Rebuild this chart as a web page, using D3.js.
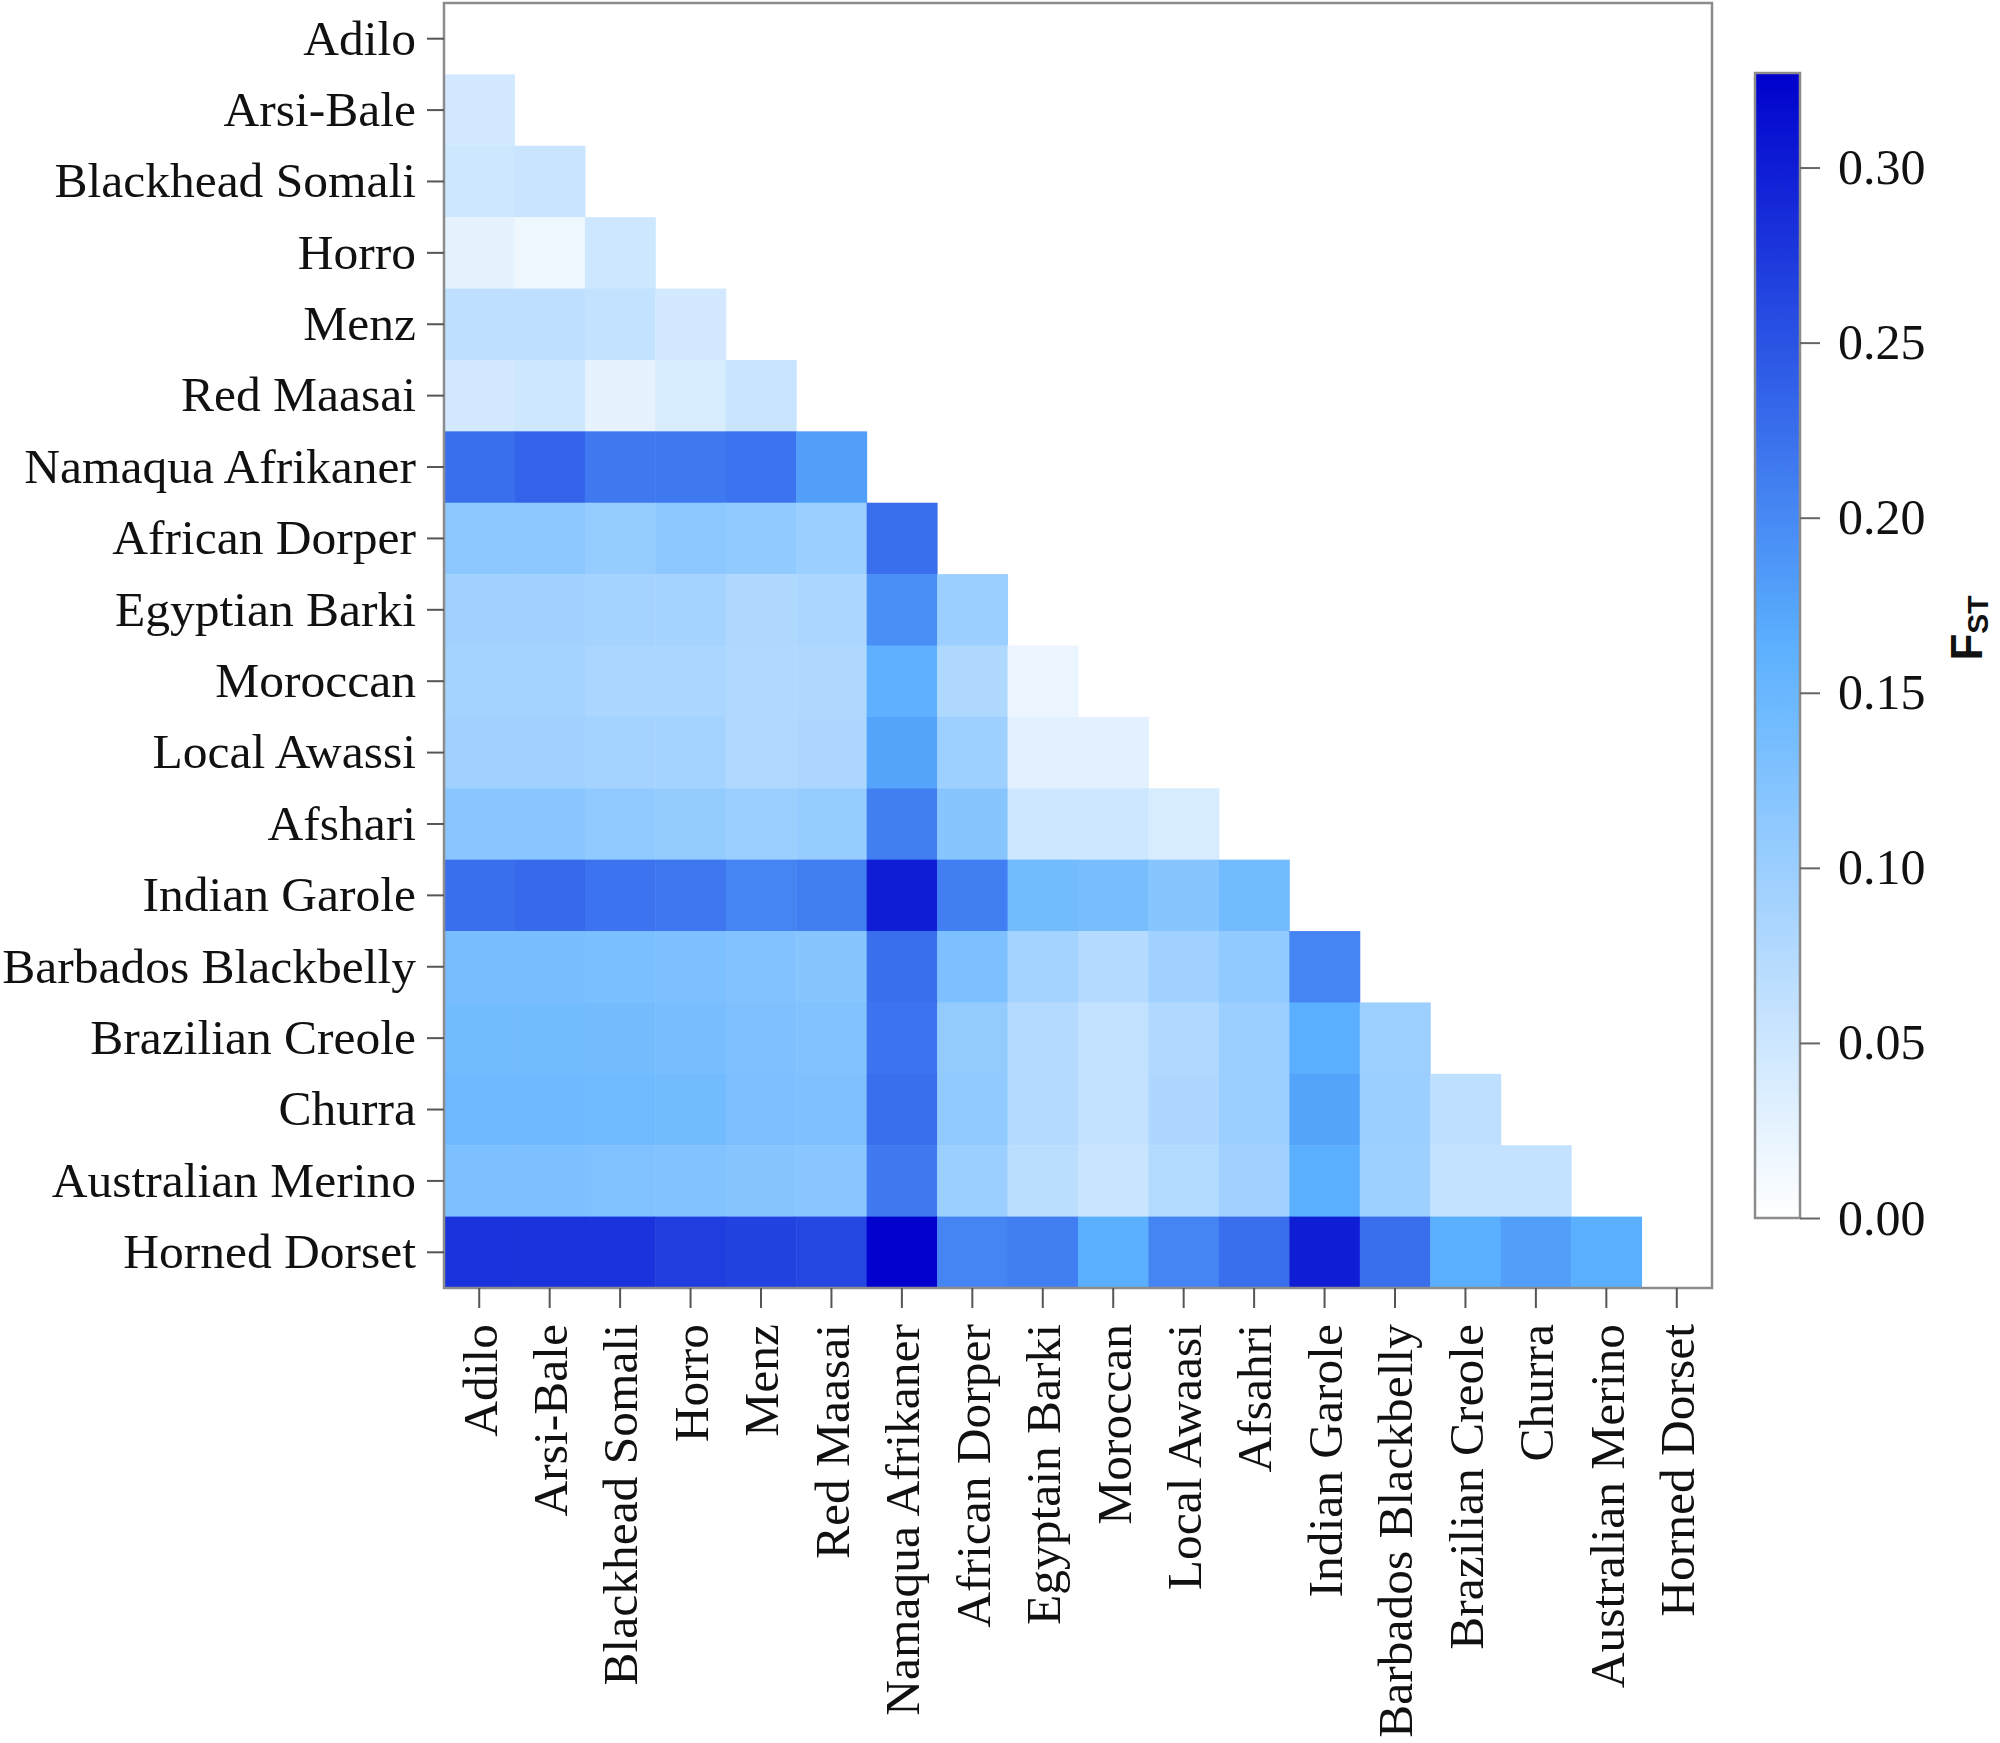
<!DOCTYPE html>
<html>
<head>
<meta charset="utf-8">
<script src="https://cdn.jsdelivr.net/npm/d3@7"></script>
<style>
  body { margin: 0; background: #fff; }
  svg text { fill: #111; }
</style>
</head>
<body>
<svg id="chart" width="2000" height="1743"></svg>
<script>
// breeds, top to bottom (rows) and left to right (columns, spelled as in the figure)
const rowLabels = ['Adilo', 'Arsi-Bale', 'Blackhead Somali', 'Horro', 'Menz', 'Red Maasai',
  'Namaqua Afrikaner', 'African Dorper', 'Egyptian Barki', 'Moroccan', 'Local Awassi', 'Afshari',
  'Indian Garole', 'Barbados Blackbelly', 'Brazilian Creole', 'Churra', 'Australian Merino', 'Horned Dorset'];
const colLabels = ['Adilo', 'Arsi-Bale', 'Blackhead Somali', 'Horro', 'Menz', 'Red Maasai',
  'Namaqua Afrikaner', 'African Dorper', 'Egyptain Barki', 'Moroccan', 'Local Awaasi', 'Afsahri',
  'Indian Garole', 'Barbados Blackbelly', 'Brazilian Creole', 'Churra', 'Australian Merino', 'Horned Dorset'];

// pairwise FST, lower triangle (row i, columns 0..i-1)
const fst = [
  [],
  [0.045],
  [0.05, 0.055],
  [0.025, 0.015, 0.05],
  [0.065, 0.065, 0.06, 0.045],
  [0.045, 0.05, 0.025, 0.04, 0.055],
  [0.225, 0.235, 0.215, 0.215, 0.22, 0.18],
  [0.115, 0.115, 0.105, 0.115, 0.11, 0.10, 0.225],
  [0.095, 0.095, 0.09, 0.09, 0.08, 0.085, 0.195, 0.10],
  [0.09, 0.09, 0.085, 0.085, 0.078, 0.08, 0.16, 0.08, 0.02],
  [0.095, 0.095, 0.09, 0.09, 0.078, 0.082, 0.175, 0.098, 0.028, 0.028],
  [0.118, 0.118, 0.11, 0.108, 0.10, 0.105, 0.21, 0.12, 0.05, 0.05, 0.04],
  [0.225, 0.23, 0.22, 0.218, 0.205, 0.21, 0.30, 0.21, 0.14, 0.135, 0.12, 0.14],
  [0.135, 0.135, 0.133, 0.13, 0.125, 0.12, 0.225, 0.13, 0.09, 0.075, 0.095, 0.11, 0.205],
  [0.14, 0.14, 0.138, 0.135, 0.128, 0.125, 0.22, 0.107, 0.075, 0.06, 0.078, 0.10, 0.165, 0.098],
  [0.145, 0.145, 0.143, 0.14, 0.13, 0.128, 0.225, 0.11, 0.075, 0.06, 0.082, 0.10, 0.175, 0.10, 0.065],
  [0.13, 0.13, 0.127, 0.125, 0.12, 0.118, 0.215, 0.10, 0.068, 0.055, 0.077, 0.095, 0.165, 0.098, 0.06, 0.06],
  [0.28, 0.28, 0.28, 0.27, 0.265, 0.262, 0.325, 0.205, 0.21, 0.165, 0.205, 0.225, 0.30, 0.225, 0.165, 0.18, 0.165]
];

const legendTicks = [0, 0.05, 0.10, 0.15, 0.20, 0.25, 0.30];
const fstMax = 0.327;

const serif = "'Liberation Serif', 'Times New Roman', serif";
const svg = d3.select('#chart');

const plot = { left: 444, right: 1712, top: 3, bottom: 1288 };
const idx = d3.range(rowLabels.length);

const x = d3.scaleBand().domain(idx).range([plot.left, plot.right]);
const y = d3.scaleBand().domain(idx).range([plot.top, plot.bottom]);

const color = d3.scaleLinear()
  .domain([0, 0.165, fstMax])
  .range(['#ffffff', '#5aafff', '#0000cd'])
  .clamp(true);

const cells = [];
fst.forEach((row, i) => row.forEach((v, j) => cells.push({ i, j, v })));

svg.append('g')
  .selectAll('rect')
  .data(cells)
  .enter()
  .append('rect')
  .attr('x', d => x(d.j))
  .attr('y', d => y(d.i))
  .attr('width', x.bandwidth() + 0.5)
  .attr('height', y.bandwidth() + 0.5)
  .attr('fill', d => color(d.v));

// frame
svg.append('rect')
  .attr('x', plot.left)
  .attr('y', plot.top)
  .attr('width', plot.right - plot.left)
  .attr('height', plot.bottom - plot.top)
  .attr('fill', 'none')
  .attr('stroke', '#8c8c8c')
  .attr('stroke-width', 2.5);

// y axis
const yAxis = svg.append('g')
  .attr('transform', `translate(${plot.left},0)`)
  .call(d3.axisLeft(y).tickFormat(i => rowLabels[i]).tickSize(17).tickPadding(11));
yAxis.select('.domain').remove();
yAxis.selectAll('.tick line').attr('stroke', '#555').attr('stroke-width', 2);
yAxis.selectAll('.tick text')
  .style('font-family', serif)
  .style('font-size', '49.5px')
  .attr('fill', '#111');

// x axis, labels rotated
const xAxis = svg.append('g')
  .attr('transform', `translate(0,${plot.bottom})`)
  .call(d3.axisBottom(x).tickFormat(i => colLabels[i]).tickSize(20).tickPadding(0));
xAxis.select('.domain').remove();
xAxis.selectAll('.tick line').attr('stroke', '#555').attr('stroke-width', 2);
xAxis.selectAll('.tick text')
  .style('font-family', serif)
  .style('font-size', '49.5px')
  .attr('fill', '#111')
  .attr('text-anchor', 'end')
  .attr('transform', 'translate(0,36) rotate(-90)')
  .attr('x', 0)
  .attr('y', 0)
  .attr('dy', '0.35em');

// colour bar
const bar = { x: 1755, w: 45, top: 73, bottom: 1218 };
const legendScale = d3.scaleLinear().domain([0, fstMax]).range([bar.bottom, bar.top]);

const grad = svg.append('defs').append('linearGradient')
  .attr('id', 'fstGrad')
  .attr('x1', 0).attr('y1', 1).attr('x2', 0).attr('y2', 0);
d3.range(0, 1.0001, 0.05).forEach(t => {
  grad.append('stop')
    .attr('offset', t)
    .attr('stop-color', color(t * fstMax));
});

svg.append('rect')
  .attr('x', bar.x)
  .attr('y', bar.top)
  .attr('width', bar.w)
  .attr('height', bar.bottom - bar.top)
  .attr('fill', 'url(#fstGrad)')
  .attr('stroke', '#8c8c8c')
  .attr('stroke-width', 2.5);

const legendAxis = svg.append('g')
  .attr('transform', `translate(${bar.x + bar.w},0)`)
  .call(d3.axisRight(legendScale).tickValues(legendTicks).tickFormat(d3.format('.2f'))
    .tickSize(20).tickPadding(18));
legendAxis.select('.domain').remove();
legendAxis.selectAll('.tick line').attr('stroke', '#666').attr('stroke-width', 2);
legendAxis.selectAll('.tick text')
  .style('font-family', serif)
  .style('font-size', '50px')
  .attr('fill', '#222');

// F_ST title
const title = svg.append('text')
  .attr('transform', 'translate(1982,628) rotate(-90)')
  .attr('text-anchor', 'middle')
  .style('font-family', "'Liberation Sans', Arial, sans-serif")
  .style('font-weight', 'bold');
title.append('tspan').style('font-size', '44px').text('F');
title.append('tspan').style('font-size', '30px').attr('dy', 6).text('ST');
</script>
</body>
</html>
